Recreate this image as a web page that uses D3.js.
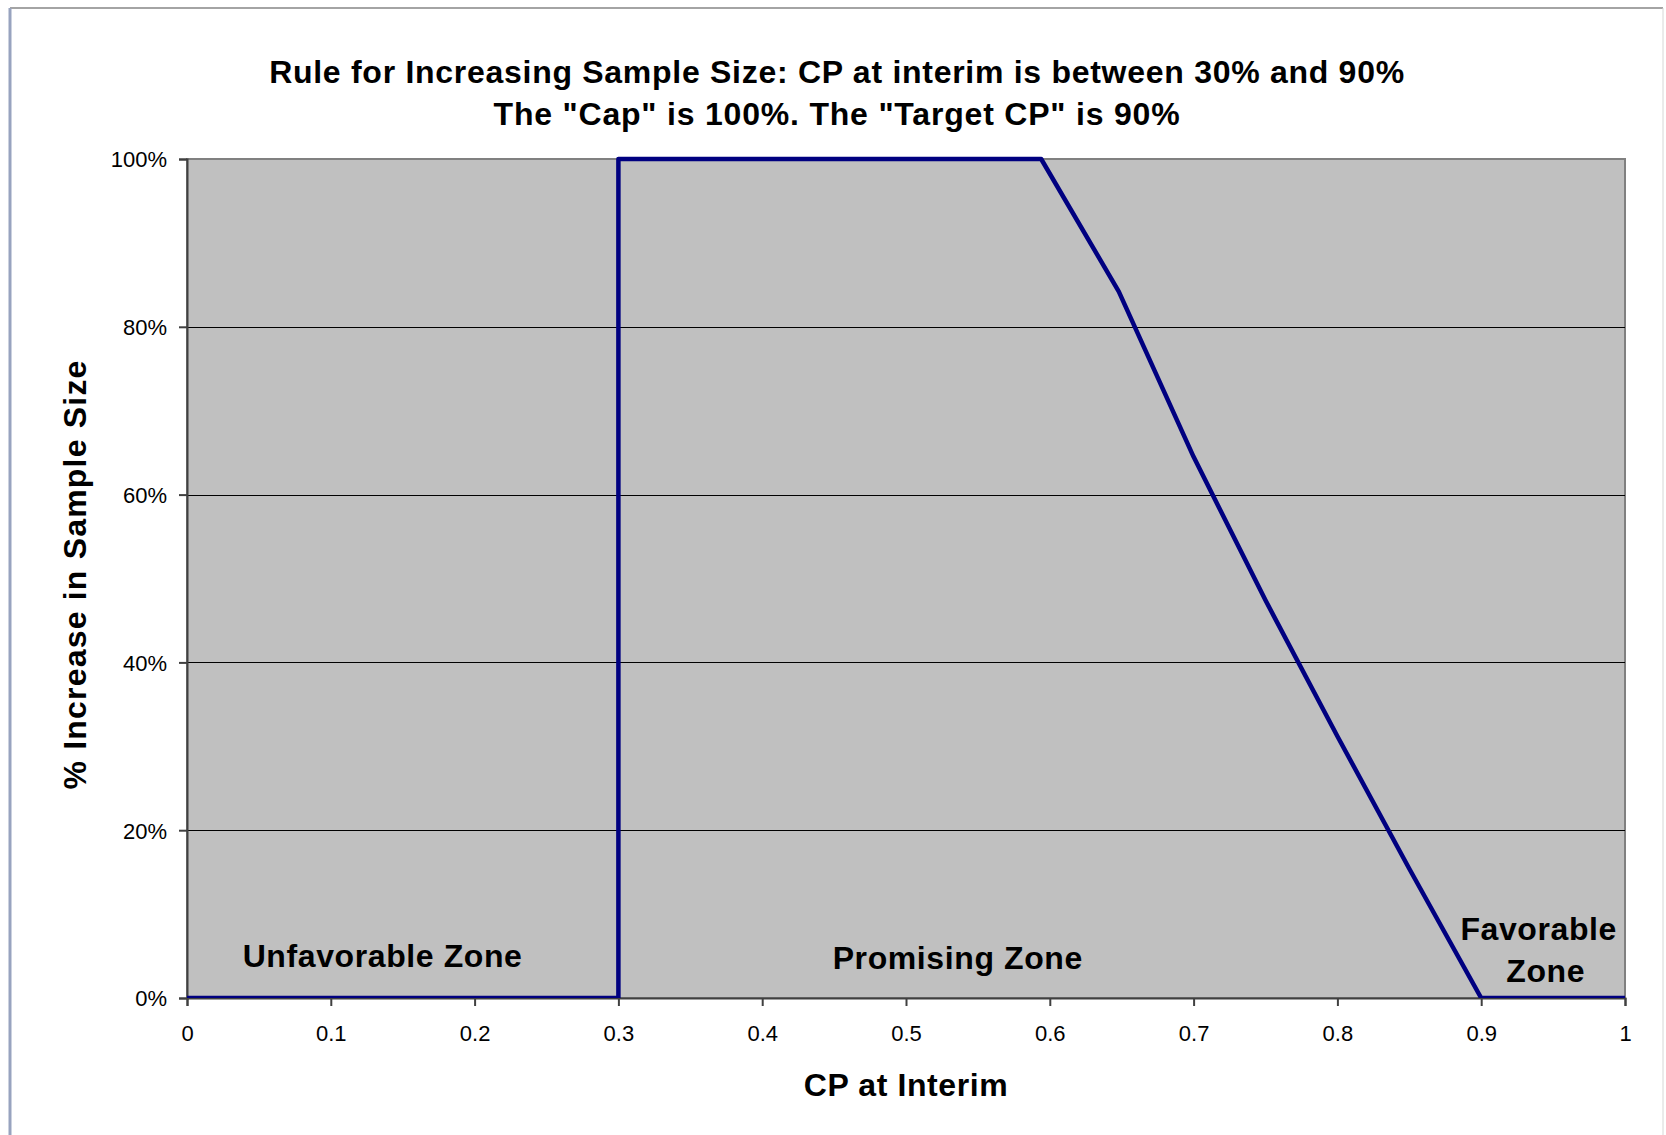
<!DOCTYPE html>
<html>
<head>
<meta charset="utf-8">
<script src="https://cdn.jsdelivr.net/npm/d3@7"></script>
<style>
  body { margin: 0; background: #fff; }
  text { font-family: Arial, "Liberation Sans", sans-serif; fill: #000; }
</style>
</head>
<body>
<svg id="chart" width="1666" height="1135"></svg>
<script>
"use strict";

// CP at interim vs % increase in sample size
var cpValues = [0, 0.3, 0.3, 0.594, 0.648, 0.70, 0.75, 0.80, 0.85, 0.90, 1.0];
var increaseValues = [0, 0, 1.0, 1.0, 0.842, 0.645, 0.474, 0.312, 0.154, 0, 0];

var xTicks = [0, 0.1, 0.2, 0.3, 0.4, 0.5, 0.6, 0.7, 0.8, 0.9, 1];
var yTicks = [0, 0.2, 0.4, 0.6, 0.8, 1.0];

var titleLines = [
  "Rule for Increasing Sample Size: CP at interim is between 30% and 90%",
  "The \"Cap\" is 100%. The \"Target CP\" is 90%"
];

var zoneNames = [["Unfavorable Zone"], ["Promising Zone"], ["Favorable", "Zone"]];
var zoneCenters = [0.136, 0.536, 0.94];

var svg = d3.select("#chart");

var plot = { left: 187, right: 1625, top: 159, bottom: 998 };

var x = d3.scaleLinear().domain([0, 1]).range([plot.left, plot.right]);
var y = d3.scaleLinear().domain([0, 1]).range([plot.bottom, plot.top]);

// outer chart frame
svg.append("line").attr("x1", 10).attr("x2", 1663).attr("y1", 8).attr("y2", 8)
  .attr("stroke", "#a4a4a4").attr("stroke-width", 2);
svg.append("line").attr("x1", 10).attr("x2", 10).attr("y1", 8).attr("y2", 1135)
  .attr("stroke", "#98a3bf").attr("stroke-width", 3);
svg.append("line").attr("x1", 1663).attr("x2", 1663).attr("y1", 8).attr("y2", 1135)
  .attr("stroke", "#d6d6d6").attr("stroke-width", 1);

// plot area
svg.append("rect")
  .attr("x", plot.left)
  .attr("y", plot.top)
  .attr("width", plot.right - plot.left)
  .attr("height", plot.bottom - plot.top)
  .attr("fill", "#c0c0c0")
  .attr("stroke", "#808080")
  .attr("stroke-width", 2);

// gridlines
svg.selectAll(".grid").data(yTicks.filter(function(d) { return d > 0 && d < 1; }))
  .enter()
  .append("line")
  .attr("class", "grid")
  .attr("x1", plot.left)
  .attr("x2", plot.right)
  .attr("y1", function(d) { return Math.round(y(d)) + 0.5; })
  .attr("y2", function(d) { return Math.round(y(d)) + 0.5; })
  .attr("stroke", "#000")
  .attr("stroke-width", 1);

// axes
var yAxis = d3.axisLeft(y).tickValues(yTicks).tickSize(8).tickPadding(12)
  .tickFormat(d3.format(".0%"));
var xAxis = d3.axisBottom(x).tickValues(xTicks).tickSize(8).tickPadding(19)
  .tickFormat(function(d) { return d === 0 || d === 1 ? String(d) : d3.format(".1f")(d); });

var gy = svg.append("g").attr("transform", "translate(" + plot.left + ",0)").call(yAxis);
var gx = svg.append("g").attr("transform", "translate(0," + plot.bottom + ")").call(xAxis);

[gx, gy].forEach(function(g) {
  g.select(".domain").attr("stroke", "#404040").attr("stroke-width", 2);
  g.selectAll(".tick line").attr("stroke", "#404040").attr("stroke-width", 2);
  g.selectAll(".tick text")
    .attr("font-size", 22)
    .attr("font-family", "Arial, 'Liberation Sans', sans-serif")
    .attr("fill", "#000");
});
gy.selectAll(".tick text").attr("dy", "0.36em");

// clip for the rule line so it sits on the bottom axis
svg.append("clipPath").attr("id", "plotClip")
  .append("rect")
  .attr("x", plot.left - 5)
  .attr("y", 0)
  .attr("width", plot.right - plot.left + 10)
  .attr("height", plot.bottom);

var points = cpValues.map(function(cp, i) { return [cp, increaseValues[i]]; });

var line = d3.line()
  .x(function(d) { return x(d[0]); })
  .y(function(d) { return y(d[1]); });

svg.append("path")
  .datum(points)
  .attr("d", line)
  .attr("fill", "none")
  .attr("stroke", "#000080")
  .attr("stroke-width", 4.5)
  .attr("stroke-linejoin", "round")
  .attr("clip-path", "url(#plotClip)");

// title
svg.selectAll(".title").data(titleLines)
  .enter()
  .append("text")
  .attr("class", "title")
  .attr("x", 837)
  .attr("y", function(d, i) { return 83 + i * 42; })
  .attr("text-anchor", "middle")
  .attr("font-size", 32)
  .attr("font-weight", "bold")
  .attr("letter-spacing", function(d, i) { return i === 0 ? 0.72 : 0.8; })
  .text(function(d) { return d; });

// axis titles
svg.append("text")
  .attr("x", (plot.left + plot.right) / 2)
  .attr("y", 1096)
  .attr("text-anchor", "middle")
  .attr("font-size", 32)
  .attr("font-weight", "bold")
  .attr("letter-spacing", 0.6)
  .text("CP at Interim");

svg.append("text")
  .attr("transform", "translate(86," + ((plot.top + plot.bottom) / 2 - 4) + ") rotate(-90)")
  .attr("text-anchor", "middle")
  .attr("font-size", 32)
  .attr("font-weight", "bold")
  .attr("letter-spacing", 1.2)
  .text("% Increase in Sample Size");

// zone labels
zoneNames.forEach(function(lines, i) {
  var t = svg.append("text")
    .attr("text-anchor", "middle")
    .attr("font-size", 32)
    .attr("font-weight", "bold")
    .attr("letter-spacing", 0.6);
  var baseY = lines.length === 1 ? plot.bottom - 31 : plot.bottom - 58;
  if (i === 1) baseY = plot.bottom - 29;
  lines.forEach(function(s, j) {
    t.append("tspan")
      .attr("x", x(zoneCenters[i]) + (lines.length > 1 && j === 1 ? 7 : 0))
      .attr("y", baseY + j * 42)
      .text(s);
  });
});
</script>
</body>
</html>
